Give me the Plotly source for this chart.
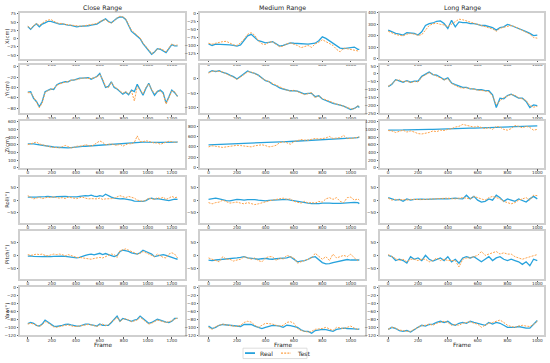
import plotly.graph_objects as go
from plotly.subplots import make_subplots

# ---------------- data ----------------
close_frames = list(range(0, 1249, 24))
medium_frames = list(range(0, 1051, 25)) + [1060]
long_frames = list(range(0, 1001, 25))

col_titles = ["Close Range", "Medium Range", "Long Range"]
row_labels = ["X(cm)", "Y(cm)", "Z(cm)", "Roll(°)", "Pitch(°)", "Yaw(°)"]
series_names = ["Real", "Test"]

close_x_real = [37,28,38,45,36,44,48,52,52,50, 47,44,45,42,41,40,37,36,37,37, 38,39,41,42,44,50,54,60,52,48, 55,62,66,65,58,40,22,15,8,0, -15,-25,-36,-47,-40,-30,-32,-36,-42,-30, -18,-22,-22]
close_x_test = [38,30,40,46,40,47,53,56,58,53, 48,46,46,43,42,41,38,37,38,38, 40,41,43,44,46,52,55,58,50,47, 54,63,68,66,60,44,25,18,10,2, -13,-22,-34,-45,-40,-32,-30,-34,-40,-28, -16,-20,-19]
close_y_real = [-49,-48,-61,-67,-77,-67,-48,-45,-43,-44, -35,-32,-30,-29,-29,-26,-26,-24,-22,-22, -21,-21,-24,-22,-19,-13,-26,-40,-38,-29, -40,-43,-48,-53,-49,-54,-45,-48,-34,-45, -55,-42,-32,-45,-55,-48,-45,-50,-70,-58, -45,-50,-57]
close_y_test = [-50,-50,-58,-70,-79,-70,-50,-46,-44,-42, -36,-33,-31,-30,-28,-27,-25,-25,-23,-22, -22,-22,-23,-21,-20,-15,-24,-38,-40,-30, -38,-42,-46,-51,-48,-52,-47,-66,-38,-44, -52,-40,-33,-44,-52,-47,-47,-52,-72,-60, -47,-48,-58]
close_z_real = [310,315,312,305,298,292,285,280,275,270, 267,264,262,260,258,262,268,272,275,278, 280,283,285,288,290,292,294,296,298,300, 302,305,307,310,315,320,325,330,332,333, 335,333,330,330,332,330,330,332,335,338, 336,333,335]
close_z_test = [300,310,320,335,310,300,285,275,270,265, 262,260,275,290,275,258,265,280,282,285, 300,290,280,300,320,350,330,300,305,310, 300,290,310,280,300,315,310,330,415,340, 340,350,345,330,320,325,305,320,330,345, 340,330,338]
close_roll_real = [12,11,10,12,13,12,14,15,13,12, 14,15,16,15,14,13,12,13,15,17, 18,17,20,16,14,18,15,24,17,12, 8,6,5,6,5,4,0,-4,-5,-6, -5,-2,5,8,4,6,3,0,0,-2, 2,4,3]
close_roll_test = [18,10,5,8,12,6,8,12,10,14, 10,8,10,6,12,10,8,6,10,12, 8,5,6,4,5,8,3,5,4,6, 8,12,18,14,10,15,12,8,0,-3, -5,0,8,5,3,10,6,12,3,8, 15,10,12]
close_pitch_real = [-3,-2,-4,-5,-6,-5,-4,-5,-5,-4, -3,-2,-3,-4,-6,-8,-10,-10,-8,-3, 0,3,5,2,5,8,3,7,3,0, -5,0,15,20,18,15,10,8,5,10, 20,15,10,5,-5,-3,0,3,0,-5, -10,-12,-15]
close_pitch_test = [3,0,2,5,3,5,0,-2,2,5, 3,5,3,-2,3,0,-5,-8,-8,-10, -10,-12,-15,-12,-10,-8,-10,-5,0,5, 3,-8,18,22,25,20,15,10,5,8, 15,10,5,0,-5,5,-3,-8,-10,5, 10,5,-10]
close_yaw_real = [-91,-88,-90,-95,-97,-92,-82,-87,-93,-97, -98,-97,-95,-93,-92,-94,-96,-97,-97,-95, -92,-92,-93,-95,-97,-92,-95,-95,-95,-88, -80,-72,-85,-78,-80,-83,-85,-82,-80,-72, -78,-85,-90,-88,-85,-80,-82,-85,-87,-88, -85,-78,-78]
close_yaw_test = [-92,-90,-92,-96,-98,-94,-86,-89,-95,-99, -100,-98,-97,-95,-94,-96,-98,-98,-97,-96, -94,-93,-94,-96,-98,-94,-92,-96,-94,-86, -82,-75,-86,-80,-79,-82,-86,-84,-82,-75, -80,-86,-92,-90,-86,-82,-84,-86,-88,-86, -84,-80,-77]

medium_x_real = [-95,-100,-96,-96,-96,-97,-98,-100,-102,-98, -85,-70,-65,-75,-85,-88,-92,-90,-88,-95, -102,-100,-95,-92,-93,-94,-95,-95,-96,-94, -93,-85,-73,-78,-85,-92,-100,-108,-110,-109, -108,-105,-112,-112]
medium_x_test = [-93,-96,-93,-90,-88,-87,-93,-98,-100,-92, -80,-65,-60,-68,-85,-95,-97,-90,-88,-97, -104,-102,-95,-92,-95,-100,-107,-104,-100,-106, -95,-90,-82,-88,-95,-100,-112,-120,-108,-110, -112,-115,-118,-118]
medium_y_real = [20,26,23,26,20,17,11,6,-2,6, 17,25,20,17,11,2,-8,-11,-20,-25, -32,-36,-40,-42,-42,-43,-48,-53,-51,-51, -62,-59,-70,-74,-80,-85,-89,-91,-94,-100, -106,-102,-94,-99]
medium_y_test = [18,24,25,24,22,15,10,4,-4,4, 15,22,22,15,10,0,-6,-10,-18,-24, -30,-35,-40,-43,-40,-45,-50,-55,-52,-48, -66,-58,-68,-73,-78,-82,-87,-90,-95,-98, -103,-104,-92,-97]
medium_z_real = [440,442,444,446,448,450,452,455,458,460, 462,465,468,470,473,476,480,483,486,490, 493,496,500,503,506,510,513,517,520,523, 527,530,534,538,542,546,550,554,558,562, 566,572,580,585]
medium_z_test = [400,420,410,400,390,400,410,420,430,425, 420,410,400,420,430,440,425,400,410,430, 480,500,480,450,500,520,540,530,530,545, 560,550,560,570,600,560,570,575,620,560, 560,575,590,590]
medium_roll_real = [3,5,8,5,0,-2,-3,0,3,2, 0,2,3,2,0,-2,-3,-1,0,2, 3,4,3,0,-3,-6,-8,-10,-12,-14, -15,-14,-12,-11,-12,-13,-14,-13,-12,-10, -8,-9,-10,-14]
medium_roll_test = [-10,-15,-10,-8,0,-5,-12,-10,-8,-12, -15,-10,-15,-18,-15,-10,-5,-3,0,3, 5,8,3,5,-5,-10,-12,-5,-12,-10, -12,-5,-8,5,10,3,10,-5,-10,10, 12,0,5,0]
medium_pitch_real = [-18,-20,-18,-17,-15,-14,-12,-11,-10,-8, -5,-10,-12,-14,-15,-13,-12,-14,-15,-13, -12,-11,-10,-5,-15,-25,-22,-20,-15,-8, -5,-15,-28,-33,-32,-28,-25,-22,-20,-16, -18,-18,-20,-18]
medium_pitch_test = [-10,-15,-22,-25,-5,-15,-15,-22,-18,-15, -5,-10,-15,-10,-20,-25,-10,-5,-5,-20, -10,-15,0,-5,-10,-30,-25,-20,-15,-10, 8,-5,-15,-5,-20,5,-10,-5,0,-5, 5,-10,-20,-15]
medium_yaw_real = [-97,-103,-100,-95,-93,-94,-95,-96,-97,-98, -93,-93,-93,-97,-100,-103,-100,-97,-95,-96, -97,-100,-95,-96,-98,-100,-106,-110,-110,-115, -108,-106,-105,-106,-108,-110,-105,-104,-102,-103, -103,-104,-105,-104]
medium_yaw_test = [-100,-105,-98,-95,-92,-94,-95,-96,-98,-95, -88,-85,-87,-95,-100,-95,-90,-91,-92,-95, -97,-95,-88,-86,-90,-103,-108,-110,-112,-110, -105,-104,-103,-100,-105,-108,-100,-102,-103,-100, -97,-102,-105,-104]

long_x_real = [250,236,222,216,207,227,227,222,207,236, 290,307,312,327,330,307,264,335,278,321, 315,315,307,307,300,290,290,278,272,250, 272,278,300,290,278,264,250,236,222,202, 207]
long_x_test = [240,225,212,205,200,215,220,215,205,210, 250,290,305,310,300,295,280,300,320,345, 340,330,320,310,300,295,285,275,260,240, 265,275,285,290,280,265,245,232,215,185, 180]
long_y_real = [-80,-65,-36,-42,-52,-42,-52,-46,-46,-15, 0,12,-4,-8,-21,-36,-25,-57,-68,-79, -85,-85,-94,-94,-100,-100,-106,-106,-132,-213, -153,-157,-136,-128,-142,-153,-153,-174,-213,-196, -200]
long_y_test = [-78,-62,-40,-38,-50,-45,-55,-48,-50,-20, -5,8,-2,-12,-25,-38,-30,-60,-72,-85, -90,-88,-92,-98,-102,-104,-110,-112,-140,-195, -170,-150,-140,-130,-135,-150,-158,-168,-200,-210, -205]
long_z_real = [980,978,975,980,985,990,995,992,990,995, 1000,1002,1000,1005,1010,1012,1015,1020,1022,1025, 1030,1028,1032,1035,1038,1040,1045,1048,1052,1055, 1058,1062,1065,1068,1070,1075,1078,1082,1085,1088, 1090]
long_z_test = [970,960,920,940,980,930,960,930,890,880, 900,920,960,940,980,970,1000,1020,1060,1080, 1130,1100,1080,1060,1080,1040,1020,1050,1000,1080, 1060,1000,980,1020,1100,1080,1040,1080,1050,980, 1000]
long_roll_real = [10,5,0,3,-5,5,0,3,5,4, 3,4,5,6,8,6,5,7,8,6, 5,20,5,15,0,-8,-5,5,0,20, 10,-5,5,0,-5,5,-3,-8,5,15, 5]
long_roll_test = [8,0,3,0,3,0,3,2,0,2, 3,4,5,6,8,7,8,6,5,8, 10,8,5,15,10,5,0,10,15,10, 5,-5,-10,-15,-10,0,5,10,0,20, 18]
long_pitch_real = [0,-5,-20,-15,-20,-30,-5,-15,-10,-20, 0,-15,-22,-15,-10,-20,-5,-25,-15,-30, -10,-5,-10,-5,-15,-25,-15,-5,-20,-10, -5,-15,-20,-15,-20,-25,-35,-25,-40,-15, -20]
long_pitch_test = [3,-5,-15,-20,-15,-25,-15,-15,-20,-15, -15,-25,-20,-10,-20,-15,-20,-20,-20,-45, -15,-10,-10,-5,0,15,0,5,10,15, 5,10,5,5,-5,-10,-15,-10,-5,0, 3]
long_yaw_real = [-105,-100,-103,-108,-110,-108,-112,-105,-100,-95, -97,-93,-92,-88,-85,-88,-85,-92,-95,-90, -88,-90,-85,-88,-90,-92,-95,-88,-92,-88, -90,-95,-100,-100,-100,-98,-100,-102,-102,-92, -83]
long_yaw_test = [-105,-100,-102,-107,-108,-110,-110,-104,-100,-96, -95,-92,-95,-90,-87,-85,-88,-95,-93,-95, -90,-88,-86,-90,-92,-100,-95,-90,-88,-85, -82,-88,-95,-98,-100,-97,-95,-97,-98,-93, -85]

# ---------------- assembly ----------------
frames = [close_frames, medium_frames, long_frames]
grid = [
    [(close_x_real, close_x_test), (medium_x_real, medium_x_test), (long_x_real, long_x_test)],
    [(close_y_real, close_y_test), (medium_y_real, medium_y_test), (long_y_real, long_y_test)],
    [(close_z_real, close_z_test), (medium_z_real, medium_z_test), (long_z_real, long_z_test)],
    [(close_roll_real, close_roll_test), (medium_roll_real, medium_roll_test), (long_roll_real, long_roll_test)],
    [(close_pitch_real, close_pitch_test), (medium_pitch_real, medium_pitch_test), (long_pitch_real, long_pitch_test)],
    [(close_yaw_real, close_yaw_test), (medium_yaw_real, medium_yaw_test), (long_yaw_real, long_yaw_test)],
]

y_ranges = [
    [[-62, 78], [-143, 2], [-3, 400]],
    [[-90, 3], [-119, 45], [-250, 56]],
    [[0, 605], [0, 890], [0, 1210]],
    [[-92, 95], [-92, 95], [-92, 95]],
    [[-92, 95], [-92, 95], [-92, 95]],
    [[-120, 0], [-120, 0], [-120, 0]],
]
y_dticks = [[25, 25, 100], [20, 50, 50], [100, 200, 200], [50, 50, 50], [50, 50, 50], [20, 20, 20]]
x_ranges = [[-65, 1310], [-60, 1100], [-55, 1045]]

W, H = 550, 363
col_px = [(20, 185), (200, 365), (380, 544)]
row_px = [(10, 57), (63, 112), (120, 167), (176, 223), (231, 280), (288, 337)]

BLUE = "#27a2dc"
ORANGE = "#fda24a"
FONT = "DejaVu Sans"
BORDER = "#cfcfcf"

fig = make_subplots(rows=6, cols=3)

for r in range(6):
    for c in range(3):
        real, test = grid[r][c]
        fig.add_trace(go.Scatter(x=frames[c], y=real, mode="lines", name=series_names[0],
                                 line=dict(color=BLUE, width=1.3), showlegend=False),
                      row=r + 1, col=c + 1)
        fig.add_trace(go.Scatter(x=frames[c], y=test, mode="lines", name=series_names[1],
                                 line=dict(color=ORANGE, width=1.0, dash="2px,1.2px"), showlegend=False),
                      row=r + 1, col=c + 1)
        idx = r * 3 + c + 1
        xa = "xaxis" if idx == 1 else f"xaxis{idx}"
        ya = "yaxis" if idx == 1 else f"yaxis{idx}"
        x0, x1 = col_px[c]
        t0, t1 = row_px[r]
        fig.layout[xa].update(domain=[x0 / W, x1 / W], range=x_ranges[c], tick0=0, dtick=200,
                              showgrid=False, zeroline=False, showline=True, mirror=True,
                              linecolor=BORDER, linewidth=1.5, ticks="outside", ticklen=1.5,
                              tickcolor="#555", tickwidth=0.6, ticklabelstandoff=-2,
                              tickfont=dict(size=4.2, color="#333", family=FONT))
        fig.layout[ya].update(domain=[1 - t1 / H, 1 - t0 / H], range=y_ranges[r][c],
                              tick0=0, dtick=y_dticks[r][c],
                              showgrid=False, zeroline=False, showline=True, mirror=True,
                              linecolor=BORDER, linewidth=1.5, ticks="outside", ticklen=1.5,
                              tickcolor="#555", tickwidth=0.6,
                              tickfont=dict(size=4.2, color="#333", family=FONT))

annotations = []
for c in range(3):
    xc = (col_px[c][0] + col_px[c][1]) / 2 / W
    annotations.append(dict(text=col_titles[c], x=xc, y=1 - 5 / H, xref="paper", yref="paper",
                            showarrow=False, xanchor="center", yanchor="middle",
                            font=dict(size=6.3, color="#222", family=FONT)))
    annotations.append(dict(text="Frame", x=xc, y=1 - 346.5 / H, xref="paper", yref="paper",
                            showarrow=False, xanchor="center", yanchor="middle",
                            font=dict(size=5.8, color="#222", family=FONT)))
for r in range(6):
    yc = 1 - (row_px[r][0] + row_px[r][1]) / 2 / H
    annotations.append(dict(text=row_labels[r], x=7 / W, y=yc, xref="paper", yref="paper",
                            showarrow=False, xanchor="center", yanchor="middle", textangle=-90,
                            font=dict(size=5.2, color="#222", family=FONT)))

# legend (drawn in paper space)
leg_y = 1 - 355 / H
shapes = [
    dict(type="rect", xref="paper", yref="paper", x0=243 / W, x1=307 / W,
         y0=1 - 360.5 / H, y1=1 - 350 / H, line=dict(color="#d5d5d5", width=0.8),
         fillcolor="white"),
    dict(type="line", xref="paper", yref="paper", x0=245 / W, x1=255 / W, y0=leg_y, y1=leg_y,
         line=dict(color=BLUE, width=1.8)),
    dict(type="line", xref="paper", yref="paper", x0=281 / W, x1=291 / W, y0=leg_y, y1=leg_y,
         line=dict(color=ORANGE, width=1.3, dash="2px,1.2px")),
]
annotations.append(dict(text=series_names[0], x=258 / W, y=leg_y, xref="paper", yref="paper",
                        showarrow=False, xanchor="left", yanchor="middle",
                        font=dict(size=6, color="#222", family=FONT)))
annotations.append(dict(text=series_names[1], x=294.5 / W, y=leg_y, xref="paper", yref="paper",
                        showarrow=False, xanchor="left", yanchor="middle",
                        font=dict(size=6, color="#222", family=FONT)))

fig.update_layout(width=W, height=H, margin=dict(l=0, r=0, t=0, b=0),
                  plot_bgcolor="white", paper_bgcolor="white",
                  annotations=annotations, shapes=shapes, showlegend=False,
                  font=dict(family=FONT))

fig.write_html("out.html", config={"displayModeBar": False},
               post_script="document.body.style.margin='0px';document.body.style.overflow='hidden';")
